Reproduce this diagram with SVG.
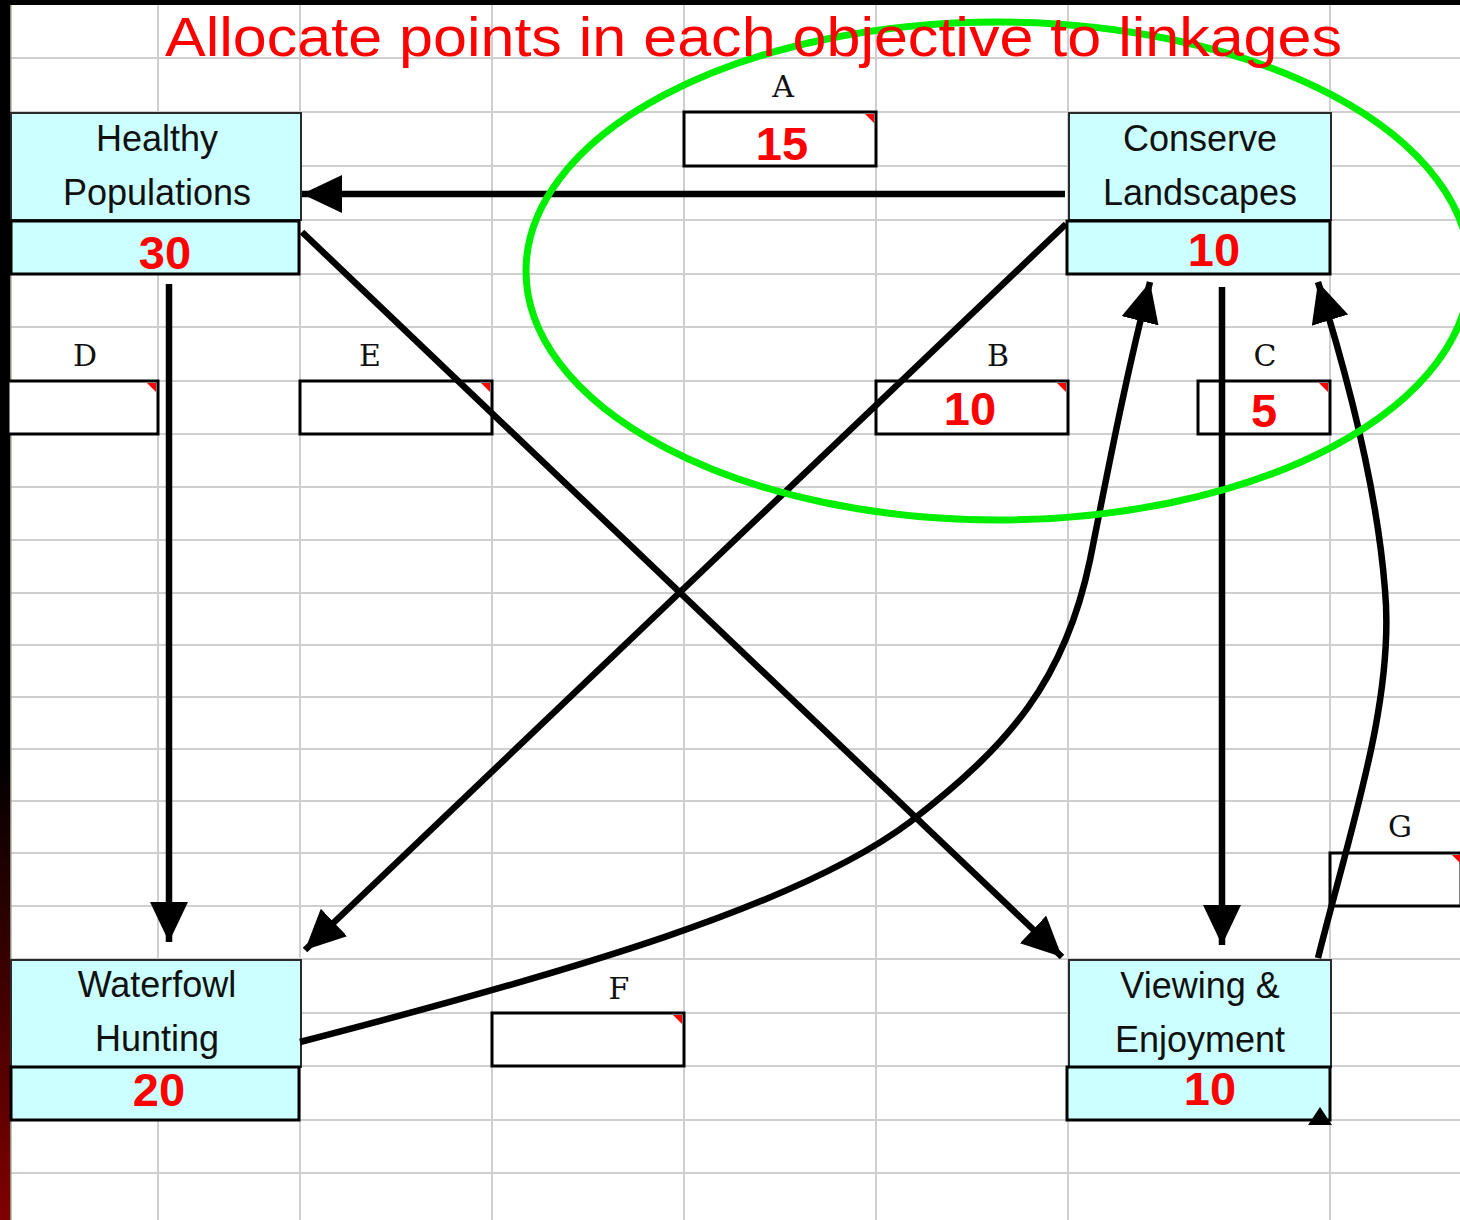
<svg xmlns="http://www.w3.org/2000/svg" width="1460" height="1220" viewBox="0 0 1460 1220">
<defs>
  <linearGradient id="barGrad" x1="0" y1="0" x2="0" y2="1">
    <stop offset="0" stop-color="#000000"/>
    <stop offset="0.62" stop-color="#000000"/>
    <stop offset="1" stop-color="#800000"/>
  </linearGradient>
  <marker id="arrow" markerUnits="userSpaceOnUse" markerWidth="42" markerHeight="40" refX="40" refY="19" orient="auto" viewBox="0 0 42 40">
    <path d="M0,0 L40,19 L0,38 z" fill="#000"/>
  </marker>
</defs>
<style>
  .grid { stroke: #cfcfcf; stroke-width: 2; fill: none; }
  .nodeTop { fill: #ccffff; stroke: #2a2a2a; stroke-width: 2; }
  .nodeBot { fill: #ccffff; stroke: #000; stroke-width: 3; }
  .nodeText { font-family: "Liberation Sans", Arial, sans-serif; font-size: 36px; fill: #111; text-anchor: middle; }
  .num { font-family: "Liberation Sans", Arial, sans-serif; font-size: 47px; font-weight: bold; fill: #ff0000; text-anchor: middle; }
  .lbox { fill: #ffffff; stroke: #000; stroke-width: 3; }
  .corner { fill: #ff0000; }
  .lbl { font-family: "DejaVu Serif", "Liberation Serif", serif; font-size: 30px; fill: #111; text-anchor: middle; }
  .conn { stroke: #000; stroke-width: 6.5; fill: none; }
</style>
<rect x="0" y="0" width="1460" height="1220" fill="#ffffff"/>
<g id="grid">
  <path class="grid" d="M10,58H1460 M10,112H1460 M10,166H1460 M10,220H1460 M10,274H1460 M10,327H1460 M10,381H1460 M10,434H1460 M10,487H1460 M10,540H1460 M10,593H1460 M10,645H1460 M10,697H1460 M10,749H1460 M10,801H1460 M10,853H1460 M10,906H1460 M10,959H1460 M10,1013H1460 M10,1066H1460 M10,1120H1460 M10,1173H1460"/>
  <path class="grid" d="M158,5V1220 M300,5V1220 M492,5V1220 M684,5V1220 M876,5V1220 M1068,5V1220 M1330,5V1220"/>
</g>
<rect x="0" y="0" width="1460" height="5" fill="#000"/>
<rect x="0" y="0" width="10" height="1220" fill="url(#barGrad)"/>
<rect x="10" y="5" width="1.5" height="1215" fill="#8c8c78"/>

<g id="label-A">
  <text class="lbl" x="783" y="97">A</text>
  <rect class="lbox" x="684" y="112" width="192" height="54"/>
  <path class="corner" d="M865,114 L874,114 L874,123 z"/>
  <text class="num" x="782" y="160">15</text>
</g>
<g id="label-B">
  <text class="lbl" x="998" y="366">B</text>
  <rect class="lbox" x="876" y="381" width="192" height="53"/>
  <path class="corner" d="M1057,383 L1066,383 L1066,392 z"/>
  <text class="num" x="970" y="425">10</text>
</g>
<g id="label-C">
  <text class="lbl" x="1265" y="366">C</text>
  <rect class="lbox" x="1198" y="381" width="132" height="53"/>
  <path class="corner" d="M1319,383 L1328,383 L1328,392 z"/>
  <text class="num" x="1264" y="427">5</text>
</g>
<g id="label-D">
  <text class="lbl" x="85" y="366">D</text>
  <rect class="lbox" x="8" y="381" width="150" height="53"/>
  <path class="corner" d="M147,383 L156,383 L156,392 z"/>
</g>
<g id="label-E">
  <text class="lbl" x="370" y="366">E</text>
  <rect class="lbox" x="300" y="381" width="192" height="53"/>
  <path class="corner" d="M481,383 L490,383 L490,392 z"/>
</g>
<g id="label-F">
  <text class="lbl" x="619" y="999">F</text>
  <rect class="lbox" x="492" y="1013" width="192" height="53"/>
  <path class="corner" d="M673,1015 L682,1015 L682,1024 z"/>
</g>
<g id="label-G">
  <text class="lbl" x="1400" y="837">G</text>
  <rect class="lbox" x="1330" y="853" width="131" height="53"/>
  <path class="corner" d="M1452,855 L1461,855 L1461,864 z"/>
</g>

<g id="node-healthy">
  <rect class="nodeTop" x="11" y="113" width="290" height="107"/>
  <rect class="nodeBot" x="11" y="221" width="288" height="53"/>
  <text class="nodeText" x="157" y="151">Healthy</text>
  <text class="nodeText" x="157" y="205">Populations</text>
  <text class="num" x="165" y="269">30</text>
</g>
<g id="node-conserve">
  <rect class="nodeTop" x="1069" y="113" width="262" height="107"/>
  <rect class="nodeBot" x="1067" y="221" width="263" height="53"/>
  <text class="nodeText" x="1200" y="151">Conserve</text>
  <text class="nodeText" x="1200" y="205">Landscapes</text>
  <text class="num" x="1214" y="266">10</text>
</g>
<g id="node-waterfowl">
  <rect class="nodeTop" x="11" y="960" width="290" height="107"/>
  <rect class="nodeBot" x="11" y="1067" width="288" height="53"/>
  <text class="nodeText" x="157" y="997">Waterfowl</text>
  <text class="nodeText" x="157" y="1051">Hunting</text>
  <text class="num" x="159" y="1106">20</text>
</g>
<g id="node-viewing">
  <rect class="nodeTop" x="1069" y="960" width="262" height="107"/>
  <rect class="nodeBot" x="1067" y="1067" width="263" height="53"/>
  <text class="nodeText" x="1200" y="998">Viewing &amp;</text>
  <text class="nodeText" x="1200" y="1052">Enjoyment</text>
  <text class="num" x="1210" y="1105">10</text>
  <path d="M1308,1125 L1332,1125 L1320,1107 z" fill="#000"/>
</g>

<g id="connectors">
  <line class="conn" x1="1065" y1="194" x2="302" y2="194" marker-end="url(#arrow)"/>
  <line class="conn" x1="302" y1="232" x2="1062" y2="957" marker-end="url(#arrow)"/>
  <line class="conn" x1="1066" y1="224" x2="305" y2="950" marker-end="url(#arrow)"/>
  <line class="conn" x1="169" y1="284" x2="169" y2="942" marker-end="url(#arrow)"/>
  <line class="conn" x1="1222" y1="287" x2="1222" y2="945" marker-end="url(#arrow)"/>
  <path class="conn" d="M300,1042 C570,972 800,905 910,822 C1010,745 1065,680 1090,560 C1108,470 1125,380 1150,282" marker-end="url(#arrow)"/>
  <path class="conn" d="M1318,958 C1350,830 1395,700 1385,590 C1378,500 1355,400 1318,282" marker-end="url(#arrow)"/>
</g>

<ellipse id="highlight" cx="998" cy="271" rx="472" ry="249" fill="none" stroke="#00ee00" stroke-width="7"/>

<text id="title" x="165" y="56" font-family="'Liberation Sans', Arial, sans-serif" font-size="56" fill="#ff0000" textLength="1177" lengthAdjust="spacingAndGlyphs">Allocate points in each objective to linkages</text>
</svg>
